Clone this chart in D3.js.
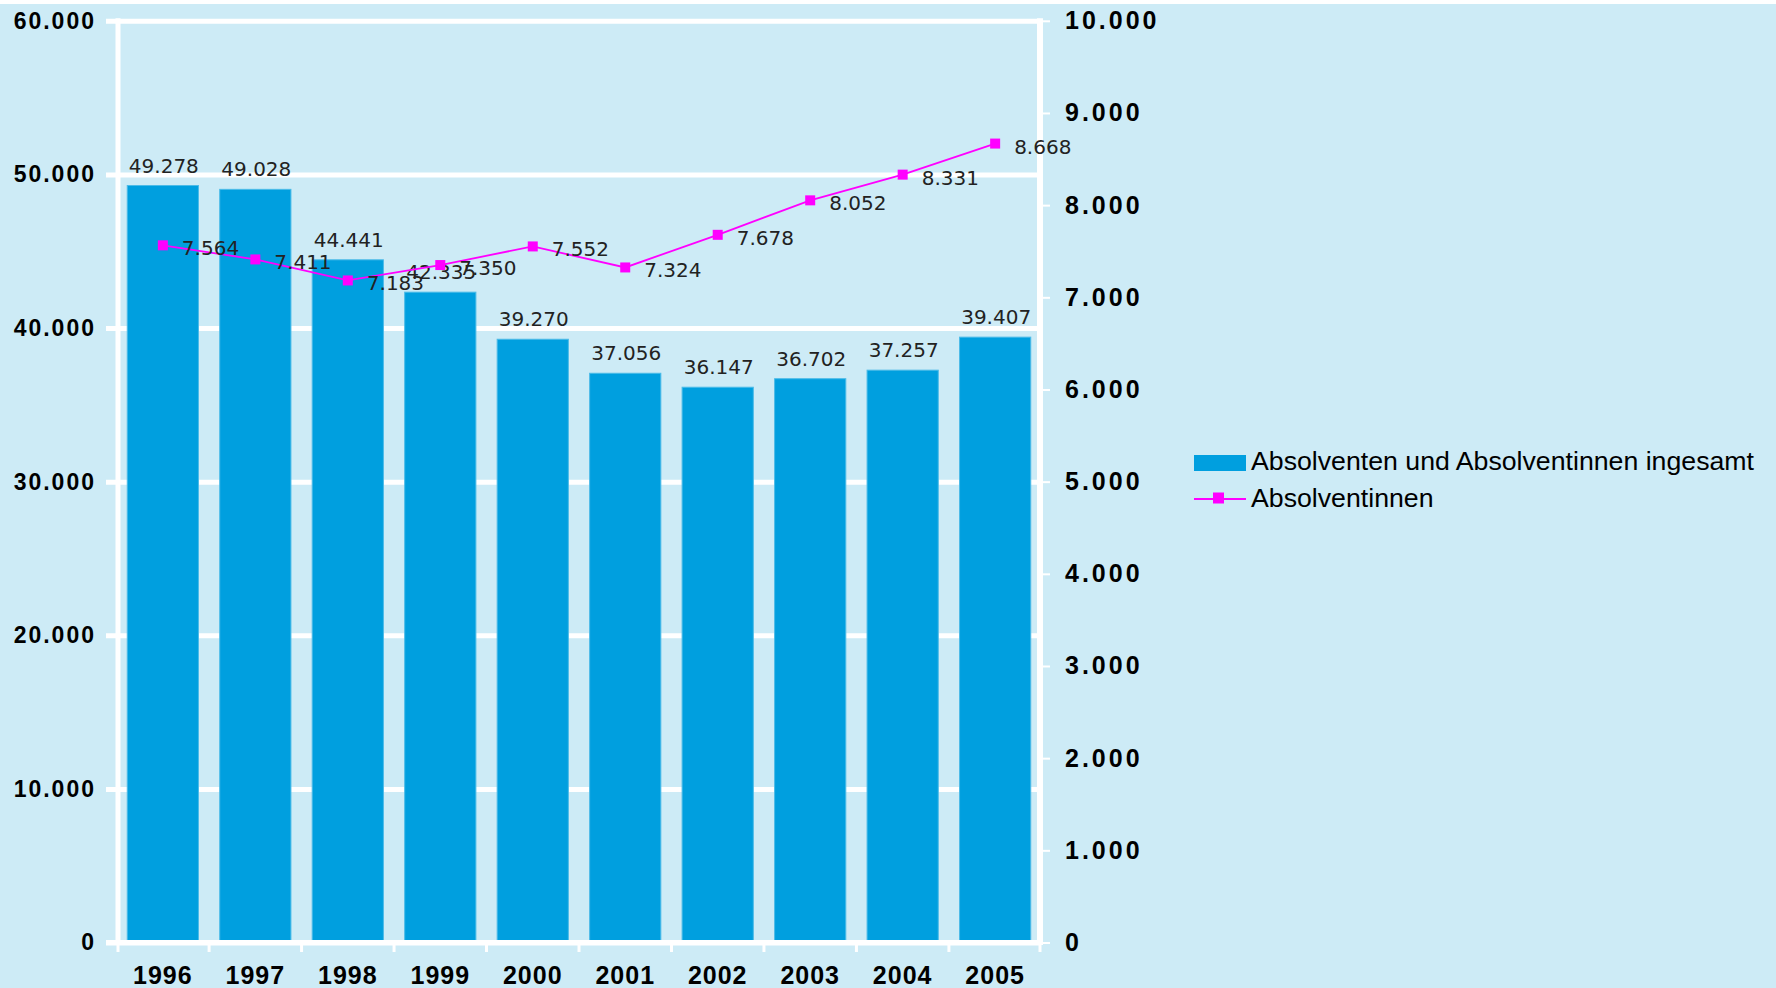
<!DOCTYPE html>
<html lang="de">
<head>
<meta charset="utf-8">
<script src="https://d3js.org/d3.v7.min.js"></script>
<style>
  body { margin: 0; background: #cdebf6; }
  svg text { font-family: "Liberation Sans", Arial, sans-serif; }
  .val { font-family: "DejaVu Sans", sans-serif; font-size: 20px; fill: #222; }
</style>
</head>
<body>
<svg id="chart" width="1776" height="988"></svg>
<script>
var years = ["1996", "1997", "1998", "1999", "2000", "2001", "2002", "2003", "2004", "2005"]
var total = [49278, 49028, 44441, 42335, 39270, 37056, 36147, 36702, 37257, 39407]
var women = [7564, 7411, 7183, 7350, 7552, 7324, 7678, 8052, 8331, 8668]
var leftTicks = [0, 10000, 20000, 30000, 40000, 50000, 60000]
var rightTicks = [0, 1000, 2000, 3000, 4000, 5000, 6000, 7000, 8000, 9000, 10000]
var legendNames = ["Absolventen und Absolventinnen ingesamt", "Absolventinnen"]

var de = d3.formatLocale({decimal: ",", thousands: ".", grouping: [3], currency: ["", " €"]})
var fmt = de.format(",d")

// plot box (note: "top" is reserved on window, so use other names)
var plotL = 118, plotR = 1040, plotT = 20.8, plotB = 942.5
var barColor = "#009fdf", lineColor = "#ff00ff"

var svg = d3.select("#chart")
svg.append("rect").attr("width", 1776).attr("height", 988).attr("fill", "#cdebf6")
svg.append("rect").attr("width", 1776).attr("height", 4).attr("fill", "#fff")

var x = d3.scaleBand().domain(years).range([plotL, plotR]).paddingInner(0.23).paddingOuter(0.1)
var y = d3.scaleLinear().domain([0, 60000]).range([plotB, plotT])
var y2 = d3.scaleLinear().domain([0, 10000]).range([plotB, plotT])

// gridlines + left labels in one axis, drawn from the right edge leftwards
var grid = svg.append("g")
    .attr("transform", "translate(" + plotR + ",0)")
    .call(d3.axisLeft(y).tickValues(leftTicks).tickSize(plotR - 106).tickPadding(10).tickFormat(fmt))
grid.select(".domain").remove()
grid.selectAll("line").attr("stroke", "#fff").attr("stroke-width", 5)
grid.selectAll("text").attr("font-size", 23).attr("font-weight", "bold").attr("letter-spacing", "2px").attr("fill", "#000")

// bars
svg.selectAll("rect.bar").data(total).enter().append("rect")
    .attr("class", "bar")
    .attr("x", (d, i) => x(years[i]))
    .attr("width", x.bandwidth())
    .attr("y", d => y(d))
    .attr("height", d => y(0) - y(d))
    .attr("fill", barColor)
    .attr("stroke", "#4cbbe8").attr("stroke-width", 1)

svg.selectAll("text.barval").data(total).enter().append("text")
    .attr("class", "val barval")
    .attr("x", (d, i) => x(years[i]) + x.bandwidth() / 2 + 1)
    .attr("y", d => y(d) - 13)
    .attr("text-anchor", "middle")
    .text(d => fmt(d))

// axis lines
svg.append("line").attr("x1", plotL).attr("x2", plotL).attr("y1", plotT - 2.5).attr("y2", 945)
    .attr("stroke", "#fff").attr("stroke-width", 5)
svg.append("line").attr("x1", plotR).attr("x2", plotR).attr("y1", plotT - 2.5).attr("y2", 945)
    .attr("stroke", "#fff").attr("stroke-width", 6)
svg.append("line").attr("x1", 106).attr("x2", plotR + 3).attr("y1", 942.5).attr("y2", 942.5)
    .attr("stroke", "#fff").attr("stroke-width", 5)

// tick marks between categories
var bounds = years.map(d => x(d) - x.step() * x.paddingInner() / 2).concat([plotR])
bounds[0] = plotL
svg.selectAll("line.xtick").data(bounds).enter().append("line")
    .attr("class", "xtick")
    .attr("x1", d => d).attr("x2", d => d).attr("y1", 944).attr("y2", 952)
    .attr("stroke", "#fff").attr("stroke-width", 3)

var xa = svg.append("g").attr("transform", "translate(0,945)")
    .call(d3.axisBottom(x).tickSize(0).tickPadding(21))
xa.select(".domain").remove()
xa.selectAll("text").attr("font-size", 25).attr("font-weight", "bold").attr("letter-spacing", "1px").attr("fill", "#000")

// right axis
var ra = svg.append("g").attr("transform", "translate(1043,0)")
    .call(d3.axisRight(y2).tickValues(rightTicks).tickSize(7).tickPadding(15).tickFormat(fmt))
ra.select(".domain").remove()
ra.selectAll("line").attr("stroke", "#fff").attr("stroke-width", 2)
ra.selectAll("text").attr("font-size", 25).attr("font-weight", "bold").attr("letter-spacing", "3px").attr("fill", "#000")

// line series
var cx = (d, i) => x(years[i]) + x.bandwidth() / 2
var line = d3.line().x(cx).y(d => y2(d))
svg.append("path").datum(women).attr("d", line)
    .attr("fill", "none").attr("stroke", lineColor).attr("stroke-width", 1.8)
svg.selectAll("rect.mark").data(women).enter().append("rect")
    .attr("class", "mark")
    .attr("x", (d, i) => cx(d, i) - 5).attr("y", d => y2(d) - 5)
    .attr("width", 10).attr("height", 10)
    .attr("fill", lineColor)
svg.selectAll("text.lineval").data(women).enter().append("text")
    .attr("class", "val lineval")
    .attr("x", (d, i) => cx(d, i) + 19)
    .attr("y", d => y2(d) + 10)
    .text(d => fmt(d))

// legend
var lg = svg.append("g").attr("transform", "translate(1194,455)")
lg.append("rect").attr("width", 52).attr("height", 16).attr("fill", barColor)
lg.append("text").attr("x", 57).attr("y", 15).attr("font-size", 26.7).attr("fill", "#000").text(legendNames[0])
lg.append("line").attr("x1", 0).attr("x2", 52).attr("y1", 44).attr("y2", 44)
    .attr("stroke", lineColor).attr("stroke-width", 1.8)
lg.append("rect").attr("x", 19).attr("y", 37.5).attr("width", 11).attr("height", 11).attr("fill", lineColor)
lg.append("text").attr("x", 57).attr("y", 52).attr("font-size", 26.7).attr("fill", "#000").text(legendNames[1])
</script>
</body>
</html>
